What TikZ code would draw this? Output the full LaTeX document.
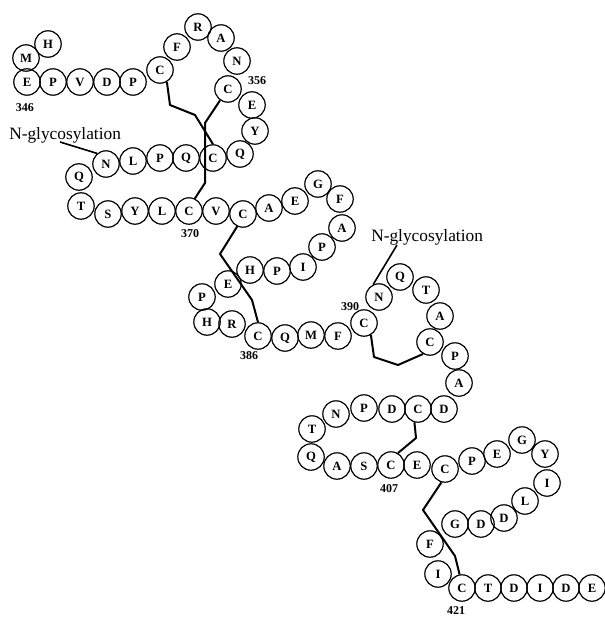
\documentclass[tikz,border=0pt]{standalone}
\usepackage{fontspec}
\setmainfont{Liberation Serif}
\begin{document}
\begin{tikzpicture}[x=0.75pt,y=-0.75pt,
  res/.style={circle,draw,line width=0.9pt,minimum size=19.8pt,inner sep=0pt,font=\bfseries\fontsize{9.5}{9.5}\selectfont},
  num/.style={font=\bfseries\fontsize{9}{9}\selectfont,inner sep=0pt},
  glyc/.style={font=\fontsize{13}{13}\selectfont,inner sep=0pt,anchor=west},
  ss/.style={line width=1.5pt,line join=round},
  ptr/.style={line width=1.2pt}]
\useasboundingbox (0,0) rectangle (605,617);
\foreach \n/\l/\x/\y in {
 1/M/26/58, 2/H/48/44, 3/E/27/82, 4/P/53/82, 5/V/80/82, 6/D/107/82, 7/P/133/82,
 8/C/160/70, 9/F/177/47, 10/R/198/27, 11/A/221/38, 12/N/237/61, 13/C/228/89,
 14/E/252/105, 15/Y/255/131, 16/Q/240/154, 17/C/213/158, 18/Q/186/158, 19/P/160/158,
 20/L/133/161, 21/N/106/164, 22/Q/79/177, 23/T/81/206, 24/S/108/214, 25/Y/135/211,
 26/L/162/211, 27/C/189/211, 28/V/216/211, 29/C/243/214, 30/A/269/208, 31/E/295/201,
 32/G/318/184, 33/F/340/199, 34/A/342/228, 35/P/322/247, 36/I/303/267, 37/P/277/271,
 38/H/250/270, 39/E/228/284, 40/P/202/297, 41/H/207/322, 42/R/232/324, 43/C/258/336,
 44/Q/285/338, 45/M/311/335, 46/F/338/336, 47/C/364/323, 48/N/379/297, 49/Q/400/277,
 50/T/426/290, 51/A/440/316, 52/C/430/342, 53/P/455/356, 54/A/459/383, 55/D/444/409,
 56/C/418/409, 57/D/392/409, 58/P/364/408, 59/N/336/414, 60/T/312/429, 61/Q/311/457,
 62/A/337/466, 63/S/364/466, 64/C/391/465, 65/E/417/465, 66/C/445/469, 67/P/472/461,
 68/E/497/454, 69/G/522/440, 70/Y/545/454, 71/I/547/483, 72/L/525/501, 73/D/504/518,
 74/D/481/524, 75/G/455/524, 76/F/430/544, 77/I/438/574, 78/C/462/588, 79/T/488/588,
 80/D/514/588, 81/I/540/588, 82/D/566/588, 83/E/592/588}
  \node[res] (r\n) at (\x,\y) {\l};
% residue numbers
\node[num] (n346) at (25,108) {346};
\node[num] (n356) at (257,81) {356};
\node[num] (n370) at (190,234) {370};
\node[num] (n386) at (249,356) {386};
\node[num] (n390) at (350,307) {390};
\node[num] (n407) at (389,489) {407};
\node[num] (n421) at (456,611) {421};
% glycosylation labels
\node[glyc] (g1) at (9,135) {N-glycosylation};
\node[glyc] (g2) at (371,237) {N-glycosylation};
\coordinate (g1e) at (60,142);
\coordinate (g2e) at (397,245);
\draw[ptr] (g1e) -- (r21.130);
\draw[ptr] (g2e) -- (r48.115);
% disulfide bridges
\draw[ss] (r8.-60) -- (170,105) -- (195,115) -- (r17.north);
\draw[ss] (r13.-125) -- (205,123) -- (205,183) -- (r27.65);
\draw[ss] (r29.-115) -- (220,254) -- (252,300) -- (r43.north);
\draw[ss] (r47.-60) -- (374,357) -- (398,365) -- (r52.-120);
\draw[ss] (r56.-105) -- (416,438) -- (398,453) -- (r64.60);
\draw[ss] (r66.-105) -- (423,510) -- (455,556) -- (r78.100);
\end{tikzpicture}
\end{document}
